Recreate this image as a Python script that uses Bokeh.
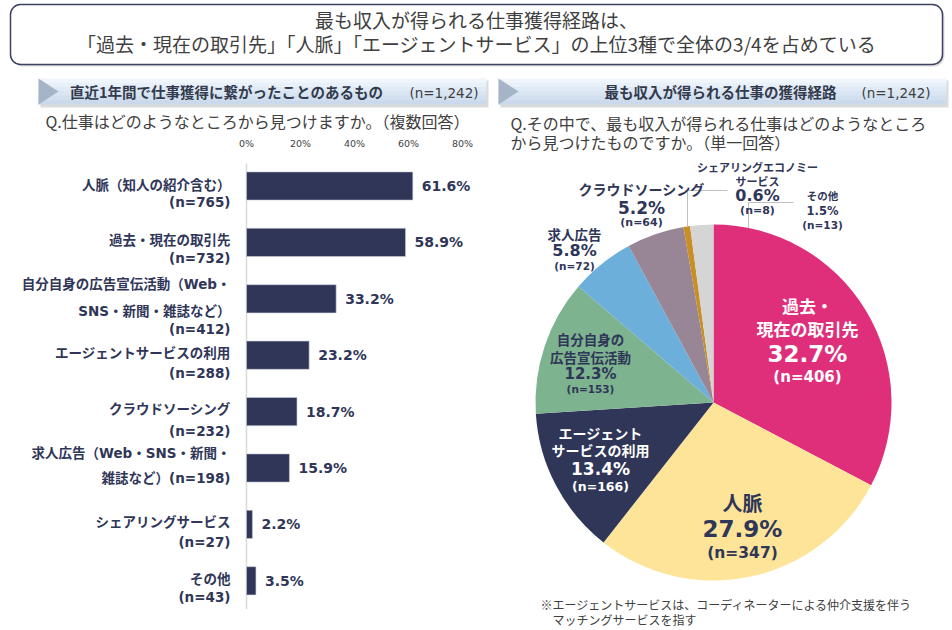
import math
from bokeh.plotting import figure
from bokeh.models import Range1d, ColumnDataSource
from bokeh.core.properties import value
from bokeh.embed import file_html
from bokeh.resources import INLINE

# ---------------- data ----------------
title_lines = [
    "最も収入が得られる仕事獲得経路は、",
    "「過去・現在の取引先」「人脈」「エージェントサービス」の上位3種で全体の3/4を占めている",
]
left_header = "直近1年間で仕事獲得に繋がったことのあるもの"
right_header = "最も収入が得られる仕事の獲得経路"
sample_label = "(n=1,242)"
left_question = "Q.仕事はどのようなところから見つけますか。（複数回答）"
right_question = [
    "Q.その中で、最も収入が得られる仕事はどのようなところ",
    "から見つけたものですか。（単一回答）",
]
footnote = [
    "※エージェントサービスは、コーディネーターによる仲介支援を伴う",
    "マッチングサービスを指す",
]

bar_categories = [
    "人脈（知人の紹介含む）",
    "過去・現在の取引先",
    "自分自身の広告宣伝活動（Web・SNS・新聞・雑誌など）",
    "エージェントサービスの利用",
    "クラウドソーシング",
    "求人広告（Web・SNS・新聞・雑誌など）",
    "シェアリングサービス",
    "その他",
]
bar_label_lines = [
    ["人脈（知人の紹介含む）", "(n=765)"],
    ["過去・現在の取引先", "(n=732)"],
    ["自分自身の広告宣伝活動（Web・", "SNS・新聞・雑誌など）", "(n=412)"],
    ["エージェントサービスの利用", "(n=288)"],
    ["クラウドソーシング", "(n=232)"],
    ["求人広告（Web・SNS・新聞・", "雑誌など）(n=198)"],
    ["シェアリングサービス", "(n=27)"],
    ["その他", "(n=43)"],
]
bar_n = [765, 732, 412, 288, 232, 198, 27, 43]
bar_pct = [61.6, 58.9, 33.2, 23.2, 18.7, 15.9, 2.2, 3.5]
bar_ticks = [0, 20, 40, 60, 80]
bar_tick_labels = ["0%", "20%", "40%", "60%", "80%"]

pie_categories = [
    "過去・現在の取引先", "人脈", "エージェントサービスの利用", "自分自身の広告宣伝活動",
    "求人広告", "クラウドソーシング", "シェアリングエコノミーサービス", "その他",
]
pie_name_lines = [
    ["過去・", "現在の取引先"],
    ["人脈"],
    ["エージェント", "サービスの利用"],
    ["自分自身の", "広告宣伝活動"],
    ["求人広告"],
    ["クラウドソーシング"],
    ["シェアリングエコノミー", "サービス"],
    ["その他"],
]
pie_pct = [32.7, 27.9, 13.4, 12.3, 5.8, 5.2, 0.6, 1.5]
pie_n = [406, 347, 166, 153, 72, 64, 8, 13]

# ---------------- styles / layout ----------------
JP = "Noto Sans CJK JP"
NUM = "DejaVu Sans"
MIX = "DejaVu Sans, Noto Sans CJK JP"
NAVY = "#2F3658"
DARK = "#404040"
pie_colors = ["#DF2F7B", "#FDE499", "#2F3658", "#7DB38F", "#6CAFDB", "#988596", "#C88E27", "#D5D5D5"]

# label layout for pie: x, name line ys, name size, pct y, pct size, n y, n size, color
pie_label_layout = [
    (807, [305, 328], 17, 353, 23, 376, 15, "white"),
    (742, [502], 20, 528, 23, 552, 15.5, NAVY),
    (600, [432, 449], 14, 468, 17, 486, 12.5, "white"),
    (590, [338, 356], 13.5, 373, 15, 388, 10.5, NAVY),
    (574, [233], 13.5, 250, 16, 265, 10.5, NAVY),
    (641, [188], 14, 207, 17, 222, 11, NAVY),
    (757, [166, 180], 11, 195, 16, 210, 11, NAVY),
    (822, [195], 10.5, 210, 11.5, 224, 10.5, NAVY),
]
bar_label_offsets = [[-1, 16], [-2, 16], [-15, 12, 30], [-2, 18], [-3, 19], [-15, 10], [-2, 18], [-2, 16]]

PIE_X, PIE_Y, PIE_R = 713, 402, 178
PCT0_X, PX_PER_PCT = 246.0, 2.7
ROW0_Y, PX_PER_ROW = 185.5, 56.4

W, H = 952, 630
p = figure(width=W, height=H, x_range=Range1d(0, W), y_range=Range1d(H, 0),
           output_backend="svg", toolbar_location=None, min_border=0,
           x_axis_type=None, y_axis_type=None, outline_line_color=None)
p.background_fill_color = "white"
p.border_fill_color = "white"
p.extra_x_ranges = {"pct": Range1d(-PCT0_X / PX_PER_PCT, (W - PCT0_X) / PX_PER_PCT)}
p.extra_y_ranges = {"row": Range1d((H - ROW0_Y) / PX_PER_ROW, -ROW0_Y / PX_PER_ROW)}


def txt(x, y, t, size, color, font=JP, bold=False, align="center", **kw):
    p.text(x=[x], y=[y], text=[t], text_font=value(font), text_font_size=f"{size}px",
           text_color=color, text_font_style="bold" if bold else "normal",
           text_align=align, text_baseline="middle", **kw)


# ---- title box ----
p.quad(left=[12], right=[944], top=[6], bottom=[66], fill_color="#9A9A9A", fill_alpha=0.35,
       line_color=None, border_radius=10)
p.quad(left=[10], right=[942], top=[4], bottom=[64], fill_color="white",
       line_color="#3D4262", line_width=1.5, border_radius=10)
txt(476, 19, title_lines[0], 19, "#3F3F3F")
txt(476, 43, title_lines[1], 19, "#3F3F3F")


# ---- header bands ----
def band(x0, x1):
    p.quad(left=[x0 + 2], right=[x1 + 2], top=[80], bottom=[107], fill_color="#B0B0B0",
           fill_alpha=0.45, line_color=None)
    tops = [78 + i * 26 / 6 for i in range(6)]
    cols = ["#F1F6FC", "#E8F0F9", "#E0EAF6", "#D8E5F2", "#D1DFEF", "#CADAEC"]
    p.quad(left=[x0] * 6, right=[x1] * 6, top=tops, bottom=[t + 26 / 6 + 0.3 for t in tops],
           fill_color=cols, line_color=None)
    p.patch(x=[x0, x0 + 20, x0], y=[78, 91, 104], fill_color="#A6B4C8", line_color=None)


band(38, 486)
band(498, 946)
txt(226, 91, left_header, 14.5, "#333A4D", bold=True)
txt(478, 92, sample_label, 13.5, DARK, font=NUM, align="right")
txt(720, 91, right_header, 14.5, "#333A4D", bold=True)
txt(930, 92, sample_label, 13.5, DARK, font=NUM, align="right")

txt(45, 120, left_question, 16, DARK, align="left")
txt(510, 122, right_question[0], 16, DARK, align="left")
txt(510, 141, right_question[1], 16, DARK, align="left")

# ---- bar chart (uses pct / row ranges) ----
rows = list(range(len(bar_categories)))
p.segment(x0=[0], y0=[-0.4], x1=[0], y1=[7.5], x_range_name="pct", y_range_name="row",
          line_color="#D9D9D9", line_width=1.5)
p.text(x=bar_ticks, y=[-0.75] * len(bar_ticks), text=bar_tick_labels, x_range_name="pct",
       y_range_name="row", text_font=value(NUM), text_font_size="9.5px", text_color=DARK,
       text_align="center", text_baseline="middle")
bar_src = ColumnDataSource(dict(y=rows, pct=bar_pct, lab=[f"{v}%" for v in bar_pct]))
p.hbar(y="y", left=0, right="pct", height=0.5, source=bar_src, x_range_name="pct",
       y_range_name="row", fill_color=NAVY, line_color="#C9CCD6", line_width=0.6)
p.text(x="pct", y="y", text="lab", source=bar_src, x_range_name="pct", y_range_name="row",
       x_offset=9, text_font=value(NUM), text_font_style="bold", text_font_size="14px",
       text_color=NAVY, text_align="left", text_baseline="middle")
lx, ly, lt, lo = [], [], [], []
for i, lines in enumerate(bar_label_lines):
    for j, line in enumerate(lines):
        lx.append(0)
        ly.append(i)
        lt.append(line)
        lo.append(bar_label_offsets[i][j])
p.text(x=lx, y=ly, text=lt, y_offset=lo, x_offset=-16, x_range_name="pct", y_range_name="row",
       text_font=value(MIX), text_font_style="bold", text_font_size="13.5px", text_color=NAVY,
       text_align="right", text_baseline="middle")

# ---- pie ----
starts, ends = [], []
cum = 0.0
for v in pie_pct:
    starts.append(cum)
    cum += v
    ends.append(cum)
ends[-1] = 100.0  # close the circle
sa = [math.pi / 2 - 2 * math.pi * s / 100 for s in starts]
ea = [math.pi / 2 - 2 * math.pi * e / 100 for e in ends]
p.wedge(x=[PIE_X] * len(pie_pct), y=[PIE_Y] * len(pie_pct), radius=PIE_R, start_angle=sa,
        end_angle=ea, direction="clock", fill_color=pie_colors, line_color=None)

# leader lines
p.line(x=[687, 687, 727], y=[226, 190, 190], line_color="#BFBFBF", line_width=1)
p.line(x=[748, 748, 793], y=[227, 202, 202], line_color="#BFBFBF", line_width=1)

for i, (x, name_ys, nsz, py, psz, ny, nnsz, col) in enumerate(pie_label_layout):
    for line, yy in zip(pie_name_lines[i], name_ys):
        txt(x, yy, line, nsz, col, bold=True)
    txt(x, py, f"{pie_pct[i]}%", psz, col, font=NUM, bold=True)
    txt(x, ny, f"(n={pie_n[i]})", nnsz, col, font=NUM, bold=True)

# footnote
txt(540, 604, footnote[0], 12, DARK, align="left")
txt(552, 619, footnote[1], 12, DARK, align="left")

open("out.html", "w").write(file_html(p, INLINE))
